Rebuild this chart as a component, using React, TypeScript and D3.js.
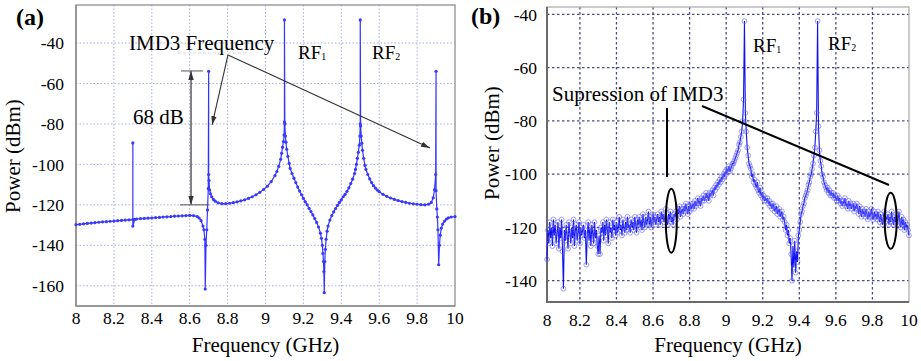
import React, { useEffect, useRef } from "react";
import * as d3 from "d3";

// (a) simulated output spectrum, [frequency GHz, power dBm]
const simPoints: [number, number][] = [
  [8.0, -129.8], [8.02, -129.6], [8.04, -129.4], [8.06, -129.2], [8.08, -129.0], [8.1, -128.8],
  [8.12, -128.6], [8.14, -128.4], [8.16, -128.3], [8.18, -128.1], [8.2, -128.0], [8.22, -127.8],
  [8.24, -127.7], [8.26, -127.5], [8.28, -127.4], [8.3, -127.3], [8.3, -89.4], [8.3, -130.5],
  [8.31, -127.2], [8.32, -127.0], [8.34, -126.8], [8.36, -126.7], [8.38, -126.6], [8.4, -126.5],
  [8.42, -126.3], [8.44, -126.2], [8.46, -126.0], [8.48, -125.9], [8.5, -125.8], [8.52, -125.6],
  [8.54, -125.5], [8.56, -125.4], [8.58, -125.3], [8.6, -125.2], [8.62, -125.3], [8.64, -125.8],
  [8.65, -126.5], [8.66, -127.8], [8.67, -130.5], [8.675, -132.3], [8.68, -137], [8.682, -161.6],
  [8.686, -140], [8.69, -132.3], [8.694, -122.5], [8.698, -112], [8.7, -54], [8.7, -105],
  [8.702, -108], [8.705, -112.6], [8.71, -114.5], [8.716, -116], [8.725, -117.3], [8.735, -118.2],
  [8.75, -119], [8.77, -119.4], [8.79, -119.4], [8.81, -119.2], [8.83, -118.9], [8.85, -118.5],
  [8.87, -118], [8.89, -117.5], [8.91, -116.8], [8.93, -116], [8.95, -115], [8.97, -113.8],
  [8.99, -112.4], [9.01, -110.8], [9.03, -108.5], [9.05, -105.5], [9.06, -103.5], [9.07, -101],
  [9.08, -97.5], [9.085, -94.5], [9.09, -91.5], [9.095, -88.7], [9.098, -85.5], [9.1, -79],
  [9.1, -28.6], [9.102, -80], [9.105, -86], [9.108, -89], [9.112, -92.5], [9.118, -96],
  [9.125, -99.5], [9.13, -102], [9.14, -104.5], [9.15, -106.8], [9.16, -109], [9.17, -111.2],
  [9.18, -113.2], [9.19, -115], [9.2, -116.8], [9.21, -118.5], [9.22, -120], [9.23, -121.7],
  [9.24, -123.3], [9.25, -125], [9.26, -126.8], [9.27, -128.7], [9.28, -131], [9.29, -134],
  [9.295, -136.5], [9.3, -140], [9.303, -144], [9.306, -148], [9.308, -153], [9.31, -163.4],
  [9.313, -148], [9.316, -142], [9.32, -137], [9.325, -133], [9.33, -130.5], [9.34, -127.5],
  [9.35, -125.3], [9.36, -123.5], [9.37, -121.8], [9.38, -120.3], [9.39, -118.8], [9.4, -117.5],
  [9.41, -116], [9.42, -114.8], [9.43, -113.3], [9.44, -111.6], [9.45, -109.5], [9.46, -107.3],
  [9.47, -104.5], [9.475, -102.5], [9.48, -100], [9.485, -97], [9.49, -94], [9.495, -90.5],
  [9.498, -86], [9.5, -80], [9.5, -28.6], [9.502, -81], [9.505, -86], [9.508, -89.5],
  [9.512, -93], [9.518, -97], [9.525, -100.5], [9.53, -102.5], [9.54, -105], [9.55, -107.2],
  [9.56, -109], [9.57, -110.5], [9.58, -111.7], [9.59, -112.7], [9.6, -113.5], [9.62, -114.8],
  [9.64, -115.8], [9.66, -116.6], [9.68, -117.3], [9.7, -117.9], [9.72, -118.4], [9.74, -118.8],
  [9.76, -119.2], [9.78, -119.5], [9.8, -119.7], [9.82, -119.9], [9.84, -120], [9.86, -119.7],
  [9.875, -118.8], [9.885, -116.5], [9.892, -112.5], [9.898, -105], [9.9, -54], [9.9, -113],
  [9.904, -122], [9.907, -126], [9.91, -132.3], [9.914, -149.6], [9.918, -140], [9.922, -135],
  [9.928, -131.5], [9.935, -129.5], [9.945, -128], [9.955, -127], [9.965, -126.4], [9.98, -126],
  [10.0, -125.8],
];

// (b) measured sweep, starts at 8.02 GHz, one reading every 5 MHz
const measStart = 8.02;
const measStep = 0.005;
const measPower = [
  -132, -121, -126, -118, -124, -120, -127, -117, -123, -119, -126, -122, -118, -128, -120, -124, -117, -129, -143, -121,
  -125, -119, -123, -128, -118, -122, -126, -120, -124, -117, -127, -121, -119, -125, -122, -118, -126, -120, -123, -121,
  -119, -124, -121, -134, -123, -118, -125, -120, -127, -119, -122, -126, -118, -124, -121, -127, -130, -123, -130, -120,
  -122, -118, -125, -119, -123, -117, -121, -126, -118, -122, -120, -124, -117, -121, -119, -123, -118, -122, -120, -116,
  -121, -119, -123, -117, -120, -122, -118, -121, -116, -120, -119, -122, -117, -120, -118, -121, -116, -119, -122, -117,
  -119, -116, -120, -117, -121, -115, -118, -120, -116, -119, -117, -114, -119, -116, -120, -117, -115, -118, -116, -119,
  -117, -115, -118, -116, -119, -114, -117, -115, -118, -116, -113, -117, -119, -115, -117, -114, -118, -116, -119, -115,
  -116, -114, -117, -113, -115, -112, -116, -114, -113, -115, -112, -114, -111, -113, -115, -112, -114, -111, -113, -112,
  -111, -113, -110, -112, -111, -109, -111, -110, -112, -109, -110, -108, -110, -109, -107, -109, -108, -110, -107, -108,
  -107, -106, -108, -105, -106, -104, -105, -103, -104, -102, -103, -101, -102, -100, -101, -99, -100, -98, -99, -97,
  -99, -98, -97, -96, -96, -95, -94, -93, -92, -91, -89, -88, -86, -84, -80, -72, -42.5, -77, -84, -90,
  -93, -96, -97, -98, -101, -100, -103, -102, -104, -105, -103, -106, -107, -105, -108, -107, -109, -108, -110, -109,
  -110, -109, -111, -110, -112, -111, -113, -111, -112, -114, -113, -112, -115, -114, -113, -116, -115, -114, -117, -116,
  -118, -121, -119, -123, -121, -126, -124, -130, -140, -127, -135, -125, -137, -129, -133, -123, -121, -118, -115, -114,
  -112, -111, -109, -108, -107, -106, -104, -103, -101, -100, -98, -96, -93, -90, -84, -77, -42.5, -82, -91, -95,
  -97, -100, -101, -103, -104, -105, -106, -105, -107, -106, -108, -107, -108, -107, -109, -108, -109, -110, -108, -110,
  -109, -111, -110, -112, -110, -111, -109, -112, -111, -113, -110, -112, -111, -113, -112, -111, -114, -112, -113, -111,
  -113, -115, -112, -114, -116, -113, -115, -114, -116, -113, -115, -117, -114, -116, -115, -113, -116, -117, -114, -116,
  -115, -117, -114, -116, -118, -115, -117, -119, -116, -114, -118, -116, -117, -115, -119, -116, -118, -114, -117, -119,
  -116, -118, -115, -119, -117, -114, -118, -120, -116, -119, -117, -121, -118, -120, -119, -121, -123,
];

const freqTicks = [8, 8.2, 8.4, 8.6, 8.8, 9, 9.2, 9.4, 9.6, 9.8, 10];
const simPowerTicks = [-40, -60, -80, -100, -120, -140, -160];
const measPowerTicks = [-40, -60, -80, -100, -120, -140];

const FONT = "Liberation Serif, DejaVu Serif, serif";

function txt(sel, size) {
  return sel.style("font-family", FONT).style("font-size", `${size}px`);
}

function drawFrame(g, x, y, yTicks, opt) {
  const [x0, x1] = x.range();
  const [y0, y1] = y.range();

  // grid
  g.selectAll(".vg")
    .data(freqTicks.filter((t) => t > 8 && t < 10))
    .join("line")
    .attr("x1", (d) => x(d)).attr("x2", (d) => x(d))
    .attr("y1", y1).attr("y2", y0)
    .attr("stroke", opt.grid).attr("stroke-width", opt.gridW)
    .attr("stroke-dasharray", opt.dash);
  g.selectAll(".hg")
    .data(yTicks)
    .join("line")
    .attr("x1", x0).attr("x2", x1)
    .attr("y1", (d) => y(d)).attr("y2", (d) => y(d))
    .attr("stroke", opt.grid).attr("stroke-width", opt.gridW)
    .attr("stroke-dasharray", opt.dash);

  // frame
  g.append("rect")
    .attr("x", x0).attr("y", y1)
    .attr("width", x1 - x0).attr("height", y0 - y1)
    .attr("fill", "none").attr("stroke", opt.frame).attr("stroke-width", 1.3);
  g.append("path")
    .attr("d", `M${x0},${y1}V${y0}H${x1}`)
    .attr("fill", "none").attr("stroke", opt.axis).attr("stroke-width", opt.axisW);

  // tick labels
  txt(g.selectAll(".xt")
    .data(freqTicks)
    .join("text")
    .attr("x", (d) => x(d)).attr("y", y0 + opt.xLabDy)
    .attr("text-anchor", "middle"), 17.5)
    .text((d) => String(d));
  txt(g.selectAll(".yt")
    .data(yTicks)
    .join("text")
    .attr("x", x0 - opt.yLabDx).attr("y", (d) => y(d))
    .attr("dy", "0.35em")
    .attr("text-anchor", "end"), 17.5)
    .text((d) => String(d));

  txt(g.append("text")
    .attr("x", (x0 + x1) / 2).attr("y", 352)
    .attr("text-anchor", "middle"), 21)
    .text("Frequency (GHz)");
  txt(g.append("text")
    .attr("transform", `translate(${opt.yTitleX},${opt.yTitleY}) rotate(-90)`)
    .attr("text-anchor", "middle"), 21)
    .text("Power (dBm)");
  txt(g.append("text")
    .attr("x", opt.tagX).attr("y", opt.tagY), 24)
    .style("font-weight", "bold")
    .text(opt.tag);
}

function rfLabel(g, x, y, n) {
  const t = txt(g.append("text").attr("x", x).attr("y", y), 19);
  t.append("tspan").text("RF");
  t.append("tspan").style("font-size", "10px").attr("dy", 1).text(n);
}

const App = () => {
  const svgRef = useRef(null);

  useEffect(() => {
    const svg = d3.select(svgRef.current);
    svg.selectAll("*").remove();

    const defs = svg.append("defs");
    defs.append("marker")
      .attr("id", "arr")
      .attr("viewBox", "0 0 10 6")
      .attr("refX", 10).attr("refY", 3)
      .attr("markerWidth", 9).attr("markerHeight", 6)
      .attr("markerUnits", "userSpaceOnUse")
      .attr("orient", "auto-start-reverse")
      .append("path").attr("d", "M0,0L10,3L0,6Z").attr("fill", "#333");

    // ---------- (a) ----------
    const ga = svg.append("g");
    const xa = d3.scaleLinear().domain([8, 10]).range([76, 455]);
    const ya = d3.scaleLinear().domain([-170, -21.2]).range([306, 5]);
    drawFrame(ga, xa, ya, simPowerTicks, {
      grid: "#a9aee6", gridW: 1, dash: "1.5,2",
      frame: "#8f8f8f", axis: "#8f8f8f", axisW: 1.5,
      xLabDy: 18, yLabDx: 12, yTitleX: 20, yTitleY: 156,
      tagX: 16, tagY: 25, tag: "(a)",
    });

    const lineA = d3.line().x((d) => xa(d[0])).y((d) => ya(d[1]));
    ga.append("path")
      .datum(simPoints)
      .attr("d", lineA)
      .attr("fill", "none").attr("stroke", "#3434ff").attr("stroke-width", 1.2);
    ga.selectAll(".dot")
      .data(simPoints)
      .join("circle")
      .attr("cx", (d) => xa(d[0])).attr("cy", (d) => ya(d[1]))
      .attr("r", 1.6).attr("fill", "#3a3aff");

    // annotations (a)
    txt(ga.append("text").attr("x", 129).attr("y", 50), 21).text("IMD3 Frequency");
    ga.append("line")
      .attr("x1", 178).attr("x2", 248).attr("y1", 53).attr("y2", 53)
      .attr("stroke", "#d8d8d8").attr("stroke-dasharray", "3,2");
    const pivot = [xa(8.802), ya(-45.9)];
    [[8.718, -80.5], [9.868, -91.9]].forEach(([f, p]) => {
      ga.append("line")
        .attr("x1", pivot[0]).attr("y1", pivot[1])
        .attr("x2", xa(f)).attr("y2", ya(p))
        .attr("stroke", "#333").attr("stroke-width", 1.1)
        .attr("marker-end", "url(#arr)");
    });
    rfLabel(ga, 298, 59, "1");
    rfLabel(ga, 372, 59, "2");

    const dbX = xa(8.607);
    ga.append("line")
      .attr("x1", dbX).attr("x2", dbX)
      .attr("y1", ya(-53.8)).attr("y2", ya(-120))
      .attr("stroke", "#333").attr("stroke-width", 1.2)
      .attr("marker-start", "url(#arr)").attr("marker-end", "url(#arr)");
    ga.append("line")
      .attr("x1", dbX - 10).attr("x2", dbX + 12)
      .attr("y1", ya(-53.8)).attr("y2", ya(-53.8))
      .attr("stroke", "#555").attr("stroke-width", 1);
    ga.append("line")
      .attr("x1", dbX - 11).attr("x2", dbX + 18)
      .attr("y1", ya(-120)).attr("y2", ya(-120))
      .attr("stroke", "#555").attr("stroke-width", 1);
    txt(ga.append("text").attr("x", 133).attr("y", 124), 21).text("68 dB");

    // ---------- (b) ----------
    const gb = svg.append("g");
    const xb = d3.scaleLinear().domain([8.02, 10]).range([547, 909]).clamp(true);
    const yb = d3.scaleLinear().domain([-148, -37.2]).range([302, 7]);
    drawFrame(gb, xb, yb, measPowerTicks, {
      grid: "#4a4a8e", gridW: 1.3, dash: "2.5,2.5",
      frame: "#b0b0b0", axis: "#6a6a6a", axisW: 2,
      xLabDy: 24, yLabDx: 10, yTitleX: 499, yTitleY: 143,
      tagX: 471, tagY: 24, tag: "(b)",
    });

    const measPoints = measPower.map((p, i) => [measStart + i * measStep, p]);
    const lineB = d3.line().x((d) => xb(d[0])).y((d) => yb(d[1]));
    gb.append("path")
      .datum(measPoints)
      .attr("d", lineB)
      .attr("fill", "none").attr("stroke", "#1010f0").attr("stroke-width", 1.1);
    gb.selectAll(".mk")
      .data(measPoints)
      .join("circle")
      .attr("cx", (d) => xb(d[0])).attr("cy", (d) => yb(d[1]))
      .attr("r", 2.4).attr("fill", "none")
      .attr("stroke", "#5c5cff").attr("stroke-opacity", 0.75).attr("stroke-width", 0.8);

    // annotations (b)
    txt(gb.append("text").attr("x", 552).attr("y", 101), 21).text("Supression of IMD3");
    gb.append("line")
      .attr("x1", 667).attr("x2", 667).attr("y1", 108).attr("y2", 177)
      .attr("stroke", "#000").attr("stroke-width", 2);
    gb.append("line")
      .attr("x1", 702).attr("y1", 106).attr("x2", 889).attr("y2", 185)
      .attr("stroke", "#000").attr("stroke-width", 2);
    gb.append("ellipse")
      .attr("cx", xb(8.7)).attr("cy", yb(-117.5))
      .attr("rx", 5.5).attr("ry", 32)
      .attr("fill", "none").attr("stroke", "#000").attr("stroke-width", 2);
    gb.append("ellipse")
      .attr("cx", xb(9.9)).attr("cy", yb(-117.5))
      .attr("rx", 6).attr("ry", 28)
      .attr("fill", "none").attr("stroke", "#000").attr("stroke-width", 2);
    rfLabel(gb, 753, 52, "1");
    rfLabel(gb, 828, 50, "2");
  }, []);

  return (
    <svg
      ref={svgRef}
      width={921}
      height={361}
      style={{ position: "absolute", left: 0, top: 0, background: "white", display: "block" }}
    />
  );
};

export default App;
